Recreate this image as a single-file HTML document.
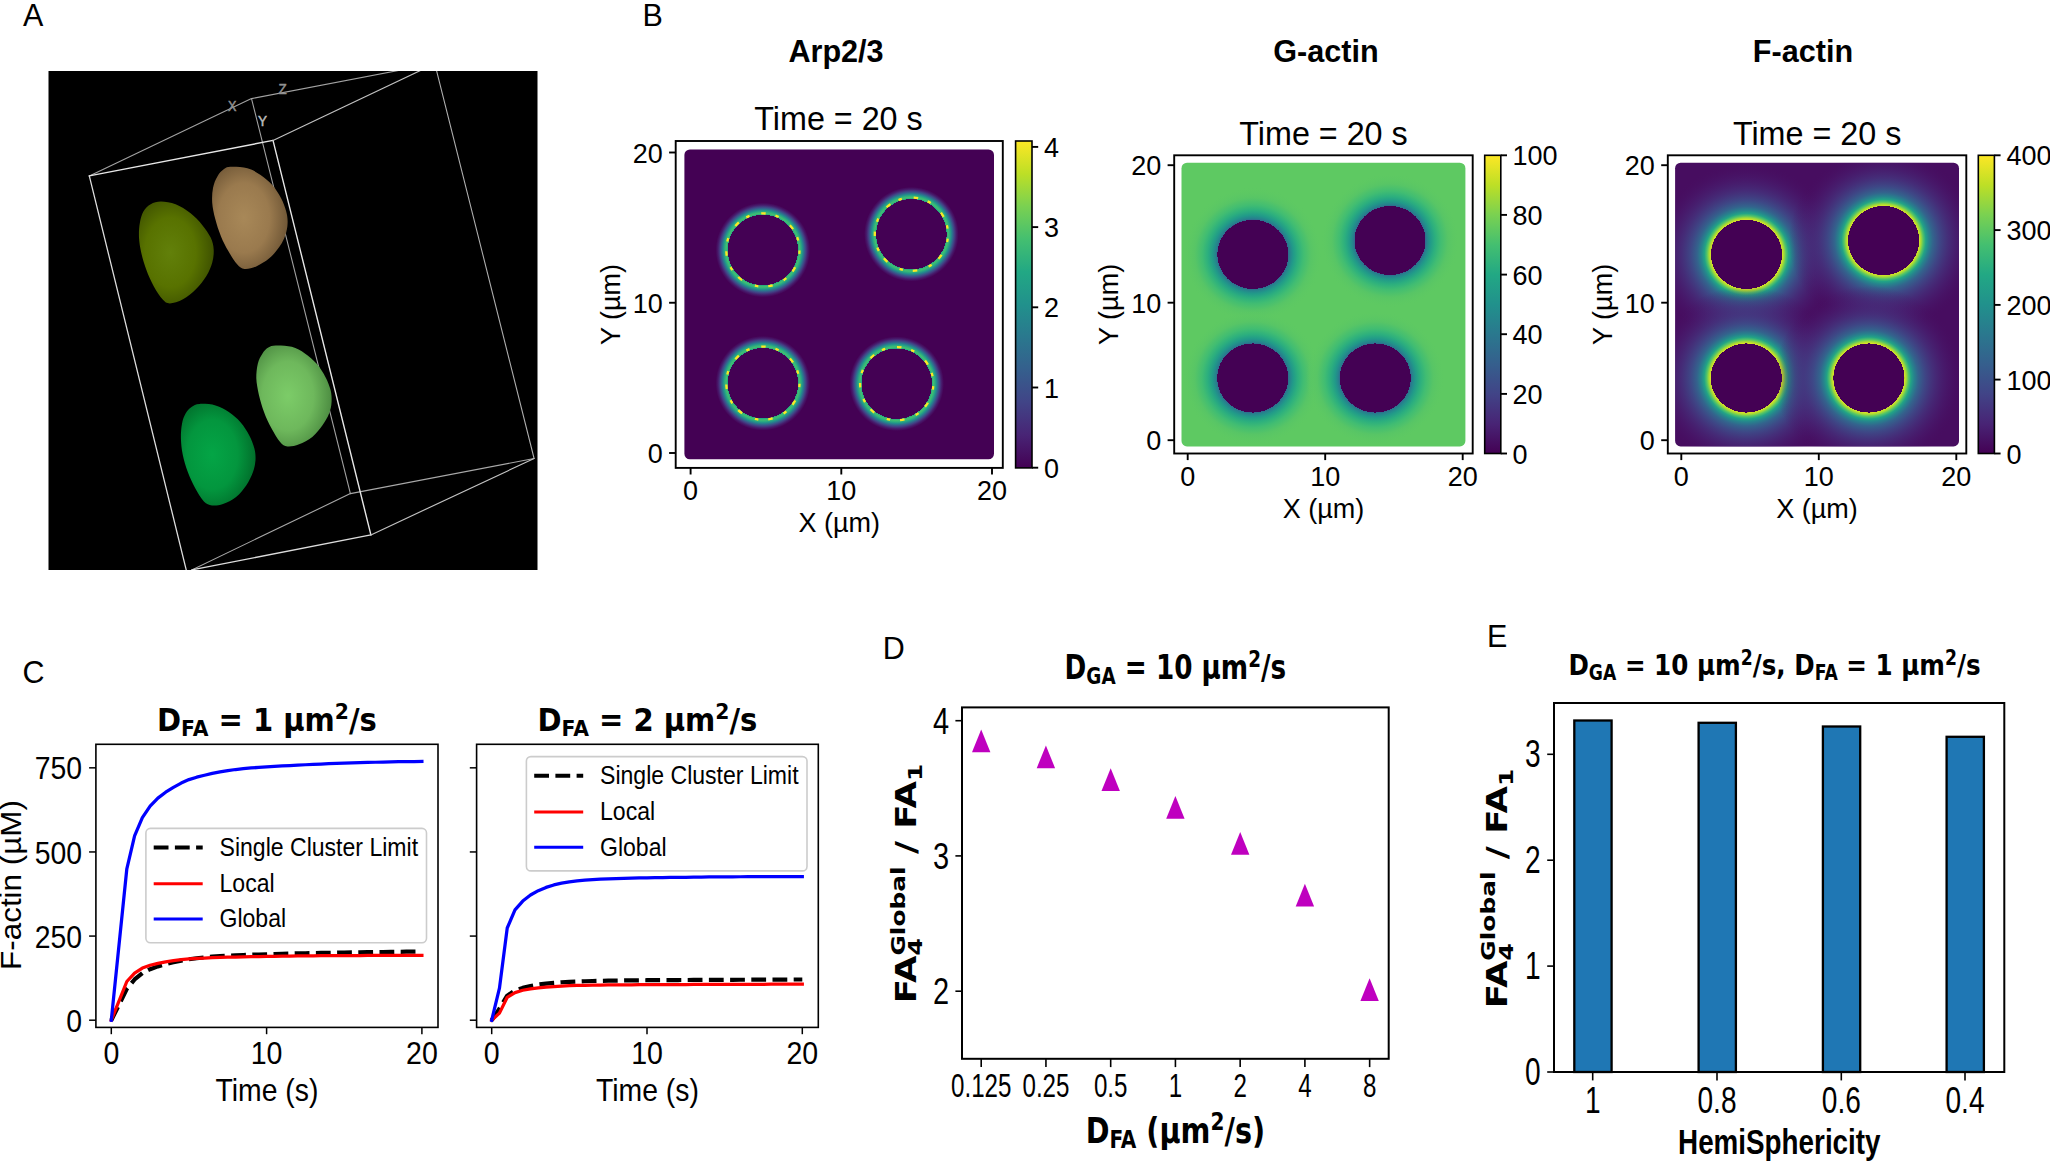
<!DOCTYPE html>
<html lang="en"><head><meta charset="utf-8"><title>Figure</title>
<style>html,body{margin:0;padding:0;background:#fff;overflow:hidden;}svg{display:block;}text{white-space:pre;}</style></head>
<body>
<svg width="2050" height="1161" viewBox="0 0 2050 1161">
<defs>
<linearGradient id="vir" x1="0" y1="1" x2="0" y2="0"><stop offset="0.0" stop-color="#440154"/><stop offset="0.1" stop-color="#482475"/><stop offset="0.2" stop-color="#414487"/><stop offset="0.3" stop-color="#355f8d"/><stop offset="0.4" stop-color="#2a788e"/><stop offset="0.5" stop-color="#21918c"/><stop offset="0.6" stop-color="#22a884"/><stop offset="0.7" stop-color="#44bf70"/><stop offset="0.8" stop-color="#7ad151"/><stop offset="0.9" stop-color="#bddf26"/><stop offset="1.0" stop-color="#fde725"/></linearGradient>
<clipPath id="clipA"><rect x="48.5" y="71.0" width="489.0" height="499.0"/></clipPath>
<radialGradient id="gOlive" cx="0.42" cy="0.5" r="0.62" fx="0.42" fy="0.5"><stop offset="0" stop-color="#62800a"/><stop offset="0.55" stop-color="#587200"/><stop offset="1" stop-color="#3a4c00"/></radialGradient>
<radialGradient id="gTan" cx="0.42" cy="0.5" r="0.62" fx="0.42" fy="0.5"><stop offset="0" stop-color="#a88858"/><stop offset="0.55" stop-color="#9a7a4e"/><stop offset="1" stop-color="#6a5233"/></radialGradient>
<radialGradient id="gLG" cx="0.42" cy="0.5" r="0.62" fx="0.42" fy="0.5"><stop offset="0" stop-color="#7ccc68"/><stop offset="0.55" stop-color="#6eb85c"/><stop offset="1" stop-color="#48863e"/></radialGradient>
<radialGradient id="gG" cx="0.42" cy="0.5" r="0.62" fx="0.42" fy="0.5"><stop offset="0" stop-color="#04a546"/><stop offset="0.55" stop-color="#03963e"/><stop offset="1" stop-color="#016828"/></radialGradient>
<radialGradient id="rg1" gradientUnits="objectBoundingBox" cx="0.5" cy="0.5" r="0.5"><stop offset="0.6767" stop-color="#440154" stop-opacity="0"/><stop offset="0.6769" stop-color="#22a884"/><stop offset="0.7058" stop-color="#44bf70"/><stop offset="0.7346" stop-color="#2caf7e"/><stop offset="0.7654" stop-color="#228e8c"/><stop offset="0.7962" stop-color="#32668d"/><stop offset="0.8269" stop-color="#424185"/><stop offset="0.8654" stop-color="#471a6b"/><stop offset="0.9077" stop-color="#440154"/><stop offset="0.9462" stop-color="#440154" stop-opacity="0"/></radialGradient>
<radialGradient id="rg2" gradientUnits="objectBoundingBox" cx="0.5" cy="0.5" r="0.5"><stop offset="0.4832" stop-color="#440154"/><stop offset="0.4833" stop-color="#306c8e"/><stop offset="0.5056" stop-color="#26828d"/><stop offset="0.5500" stop-color="#219a89"/><stop offset="0.6153" stop-color="#2caf7e"/><stop offset="0.6917" stop-color="#41bd72"/><stop offset="0.7889" stop-color="#57c566"/><stop offset="0.9417" stop-color="#5ec962" stop-opacity="0"/></radialGradient>
<clipPath id="clipB2"><rect x="1181.5" y="162.7" width="283.9" height="283.7" rx="5.5"/></clipPath>
<radialGradient id="rg3" gradientUnits="objectBoundingBox" cx="0.5" cy="0.5" r="0.5"><stop offset="0.3624" stop-color="#440154"/><stop offset="0.3625" stop-color="#dde326"/><stop offset="0.3833" stop-color="#a2d937"/><stop offset="0.4042" stop-color="#54c467"/><stop offset="0.4302" stop-color="#22a386"/><stop offset="0.4615" stop-color="#26848d"/><stop offset="0.5031" stop-color="#33648d"/><stop offset="0.5708" stop-color="#3d4c89" stop-opacity="0.92"/><stop offset="0.6646" stop-color="#443780" stop-opacity="0.75"/><stop offset="0.8000" stop-color="#482475" stop-opacity="0.4"/><stop offset="0.9667" stop-color="#470d60" stop-opacity="0"/></radialGradient>
<clipPath id="clipB3"><rect x="1675.1" y="162.7" width="283.9" height="283.7" rx="5.5"/></clipPath>
</defs>
<rect width="2050" height="1161" fill="#fff"/>
<text transform="translate(23.00,26.30) scale(1.0000,1.0400)" font-family="'Liberation Sans', Arial, sans-serif" font-size="30.5" font-weight="normal" text-anchor="start" fill="#000" >A</text>
<text transform="translate(642.60,26.10) scale(1.0000,1.0400)" font-family="'Liberation Sans', Arial, sans-serif" font-size="30.5" font-weight="normal" text-anchor="start" fill="#000" >B</text>
<text transform="translate(22.60,683.00) scale(1.0000,1.0400)" font-family="'Liberation Sans', Arial, sans-serif" font-size="30.5" font-weight="normal" text-anchor="start" fill="#000" >C</text>
<text transform="translate(882.70,659.40) scale(1.0000,1.0400)" font-family="'Liberation Sans', Arial, sans-serif" font-size="30.5" font-weight="normal" text-anchor="start" fill="#000" >D</text>
<text transform="translate(1486.90,647.30) scale(1.0000,1.0400)" font-family="'Liberation Sans', Arial, sans-serif" font-size="30.5" font-weight="normal" text-anchor="start" fill="#000" >E</text>
<rect x="48.5" y="71.0" width="489.0" height="499.0" fill="#000"/>
<g clip-path="url(#clipA)">
<line x1="89.3" y1="175.9" x2="251.5" y2="98.6" stroke="#a2a2a2" stroke-width="1.1" stroke-linecap="round"/>
<line x1="251.5" y1="98.6" x2="424.53999999999996" y2="65.48" stroke="#a2a2a2" stroke-width="1.1" stroke-linecap="round"/>
<line x1="251.5" y1="98.6" x2="350.4" y2="493.6" stroke="#a0a0a0" stroke-width="1.1" stroke-linecap="round"/>
<line x1="191.8" y1="569.9" x2="350.4" y2="493.6" stroke="#a8a8a8" stroke-width="1.1" stroke-linecap="round"/>
<line x1="350.4" y1="493.6" x2="534.1" y2="458.5" stroke="#a8a8a8" stroke-width="1.1" stroke-linecap="round"/>
<path d="M161.0,201.5 C165.1,201.5 170.8,202.3 175.6,204.2 C180.5,206.1 185.9,209.5 190.3,213.0 C194.7,216.4 198.6,220.5 202.0,224.7 C205.4,228.8 208.8,233.7 210.8,237.8 C212.7,242.0 213.5,245.4 213.7,249.6 C213.9,253.7 213.5,258.3 212.2,262.7 C211.0,267.1 209.1,271.5 206.4,275.9 C203.7,280.3 200.0,285.2 196.1,289.1 C192.2,293.0 187.3,296.9 183.0,299.3 C178.6,301.7 173.2,303.4 169.8,303.4 C166.4,303.4 165.1,302.2 162.5,299.3 C159.8,296.5 156.4,291.0 153.7,286.2 C151.0,281.3 148.4,275.7 146.4,270.1 C144.3,264.4 142.4,257.9 141.2,252.5 C140.0,247.1 139.3,242.7 139.0,237.8 C138.8,233.0 139.0,227.6 139.8,223.2 C140.5,218.8 141.6,214.7 143.4,211.5 C145.3,208.3 147.8,205.8 150.7,204.2 C153.7,202.5 156.8,201.5 161.0,201.5Z" fill="url(#gOlive)"/>
<path d="M231.3,166.8 C235.2,166.7 242.5,167.0 247.4,168.3 C252.3,169.6 256.4,172.1 260.6,174.9 C264.7,177.7 268.9,181.2 272.3,185.1 C275.7,189.0 278.7,193.9 281.1,198.3 C283.4,202.7 285.1,207.3 286.2,211.5 C287.3,215.6 287.8,219.3 287.6,223.2 C287.5,227.1 286.8,231.0 285.4,234.9 C284.1,238.8 282.3,242.7 279.6,246.6 C276.9,250.5 273.2,255.1 269.3,258.3 C265.4,261.6 260.3,264.6 256.2,266.4 C252.0,268.2 247.6,269.3 244.5,268.9 C241.3,268.5 239.8,267.2 237.1,264.2 C234.4,261.2 231.0,255.7 228.3,251.0 C225.7,246.4 223.2,241.8 221.0,236.4 C218.8,231.0 216.6,224.4 215.2,218.8 C213.7,213.2 212.6,207.8 212.2,202.7 C211.9,197.6 212.1,192.5 213.0,188.1 C213.8,183.7 215.5,179.5 217.4,176.4 C219.2,173.2 221.6,170.6 224.0,169.0 C226.3,167.4 227.4,167.0 231.3,166.8Z" fill="url(#gTan)"/>
<path d="M275.7,345.4 C279.6,345.3 286.9,345.5 291.8,346.8 C296.7,348.2 300.8,350.6 304.9,353.4 C309.1,356.2 313.2,359.8 316.7,363.7 C320.1,367.6 323.1,372.5 325.4,376.9 C327.8,381.2 329.5,385.9 330.6,390.0 C331.6,394.2 331.8,397.8 331.6,401.7 C331.4,405.6 330.6,409.6 329.1,413.5 C327.6,417.4 325.3,421.3 322.5,425.2 C319.7,429.1 316.2,433.7 312.3,436.9 C308.4,440.1 303.2,442.6 299.1,444.2 C294.9,445.8 290.6,446.8 287.4,446.4 C284.2,446.0 282.7,445.1 280.1,442.0 C277.4,439.0 274.0,433.1 271.3,428.1 C268.6,423.1 266.0,417.6 264.0,412.0 C261.9,406.4 260.1,400.0 258.8,394.4 C257.6,388.8 256.5,383.4 256.3,378.3 C256.2,373.2 256.8,367.8 257.8,363.7 C258.8,359.5 260.7,356.1 262.5,353.4 C264.2,350.7 266.1,348.9 268.3,347.6 C270.5,346.2 271.8,345.5 275.7,345.4Z" fill="url(#gLG)"/>
<path d="M199.5,403.9 C203.6,403.7 210.8,404.1 215.6,405.4 C220.5,406.7 224.7,409.2 228.8,412.0 C233.0,414.8 237.1,418.3 240.5,422.2 C243.9,426.1 247.0,431.0 249.3,435.4 C251.6,439.8 253.4,444.4 254.4,448.6 C255.5,452.7 255.7,456.4 255.5,460.3 C255.2,464.2 254.5,467.9 253.0,472.0 C251.5,476.2 249.2,481.0 246.4,485.2 C243.6,489.3 240.0,493.8 236.1,496.9 C232.2,500.0 227.0,502.5 223.0,503.9 C218.9,505.4 215.1,505.8 212.0,505.4 C208.8,505.0 206.7,504.5 203.9,501.6 C201.1,498.7 197.8,493.1 195.1,488.1 C192.5,483.2 189.9,477.6 187.8,472.0 C185.7,466.4 183.8,460.1 182.7,454.5 C181.5,448.8 181.1,443.5 180.9,438.3 C180.8,433.2 181.2,427.9 182.0,423.7 C182.7,419.6 184.0,416.3 185.6,413.5 C187.2,410.6 189.2,408.5 191.5,406.9 C193.8,405.3 195.5,404.2 199.5,403.9Z" fill="url(#gG)"/>
<line x1="89.3" y1="175.9" x2="273.0" y2="140.4" stroke="#e6e6e6" stroke-width="1.4" stroke-linecap="round"/>
<line x1="89.3" y1="175.9" x2="186.4" y2="570.6" stroke="#dcdcdc" stroke-width="1.3" stroke-linecap="round"/>
<line x1="273.0" y1="140.4" x2="370.9" y2="534.9" stroke="#e6e6e6" stroke-width="1.4" stroke-linecap="round"/>
<line x1="191.8" y1="569.9" x2="370.9" y2="534.9" stroke="#dcdcdc" stroke-width="1.3" stroke-linecap="round"/>
<line x1="370.9" y1="534.9" x2="534.1" y2="458.5" stroke="#c2c2c2" stroke-width="1.15" stroke-linecap="round"/>
<line x1="273.0" y1="140.4" x2="434.8" y2="63.7" stroke="#c0c0c0" stroke-width="1.15" stroke-linecap="round"/>
<line x1="434.8" y1="63.7" x2="534.1" y2="458.5" stroke="#adadad" stroke-width="1.1" stroke-linecap="round"/>
<text transform="translate(228.00,111.30) scale(0.8200,1.0000)" font-family="'Liberation Sans', Arial, sans-serif" font-size="15.4" font-weight="normal" text-anchor="start" fill="#909090" stroke="#909090" stroke-width="0.5">X</text>
<text transform="translate(278.60,93.70) scale(0.8800,1.0000)" font-family="'Liberation Sans', Arial, sans-serif" font-size="15.4" font-weight="normal" text-anchor="start" fill="#909090" stroke="#909090" stroke-width="0.5">Z</text>
<text transform="translate(258.00,125.90) scale(0.8800,1.0000)" font-family="'Liberation Sans', Arial, sans-serif" font-size="15.4" font-weight="normal" text-anchor="start" fill="#bcbcbc" stroke="#bcbcbc" stroke-width="0.5">Y</text>
</g>
<text transform="translate(836.00,62.30) scale(1.0000,1.0300)" font-family="'Liberation Sans', Arial, sans-serif" font-size="30.6" font-weight="bold" text-anchor="middle" fill="#000" >Arp2/3</text>
<text transform="translate(1326.00,62.30) scale(1.0000,1.0300)" font-family="'Liberation Sans', Arial, sans-serif" font-size="30.6" font-weight="bold" text-anchor="middle" fill="#000" >G-actin</text>
<text transform="translate(1803.00,62.30) scale(1.0000,1.0300)" font-family="'Liberation Sans', Arial, sans-serif" font-size="30.6" font-weight="bold" text-anchor="middle" fill="#000" >F-actin</text>
<rect x="684.4" y="149.5" width="309.6" height="309.8" rx="5.5" fill="#440154"/>
<circle cx="762.9" cy="250.0" r="52.0" fill="url(#rg1)"/>
<circle cx="762.9" cy="250.0" r="36.6" fill="none" stroke="#fde725" stroke-width="2.3" stroke-dasharray="4.5 10 3.5 14 5 9 3.5 12" stroke-dashoffset="14"/>
<circle cx="911.4" cy="234.2" r="52.0" fill="url(#rg1)"/>
<circle cx="911.4" cy="234.2" r="36.6" fill="none" stroke="#fde725" stroke-width="2.3" stroke-dasharray="4.5 10 3.5 14 5 9 3.5 12" stroke-dashoffset="10"/>
<circle cx="762.9" cy="383.2" r="52.0" fill="url(#rg1)"/>
<circle cx="762.9" cy="383.2" r="36.6" fill="none" stroke="#fde725" stroke-width="2.3" stroke-dasharray="4.5 10 3.5 14 5 9 3.5 12" stroke-dashoffset="14"/>
<circle cx="896.7" cy="383.7" r="52.0" fill="url(#rg1)"/>
<circle cx="896.7" cy="383.7" r="36.6" fill="none" stroke="#fde725" stroke-width="2.3" stroke-dasharray="4.5 10 3.5 14 5 9 3.5 12" stroke-dashoffset="12"/>
<rect x="675.70" y="141.00" width="327.10" height="326.90" fill="none" stroke="#000" stroke-width="1.9" />
<line x1="690.60" y1="467.90" x2="690.60" y2="474.50" stroke="#000" stroke-width="1.9" />
<text transform="translate(690.60,500.20) scale(1.0000,1.0400)" font-family="'Liberation Sans', Arial, sans-serif" font-size="27.0" font-weight="normal" text-anchor="middle" fill="#000" >0</text>
<line x1="669.10" y1="453.00" x2="675.70" y2="453.00" stroke="#000" stroke-width="1.9" />
<text transform="translate(662.70,463.00) scale(1.0000,1.0400)" font-family="'Liberation Sans', Arial, sans-serif" font-size="27.0" font-weight="normal" text-anchor="end" fill="#000" >0</text>
<line x1="841.30" y1="467.90" x2="841.30" y2="474.50" stroke="#000" stroke-width="1.9" />
<text transform="translate(841.30,500.20) scale(1.0000,1.0400)" font-family="'Liberation Sans', Arial, sans-serif" font-size="27.0" font-weight="normal" text-anchor="middle" fill="#000" >10</text>
<line x1="669.10" y1="302.75" x2="675.70" y2="302.75" stroke="#000" stroke-width="1.9" />
<text transform="translate(662.70,312.75) scale(1.0000,1.0400)" font-family="'Liberation Sans', Arial, sans-serif" font-size="27.0" font-weight="normal" text-anchor="end" fill="#000" >10</text>
<line x1="992.00" y1="467.90" x2="992.00" y2="474.50" stroke="#000" stroke-width="1.9" />
<text transform="translate(992.00,500.20) scale(1.0000,1.0400)" font-family="'Liberation Sans', Arial, sans-serif" font-size="27.0" font-weight="normal" text-anchor="middle" fill="#000" >20</text>
<line x1="669.10" y1="152.50" x2="675.70" y2="152.50" stroke="#000" stroke-width="1.9" />
<text transform="translate(662.70,162.50) scale(1.0000,1.0400)" font-family="'Liberation Sans', Arial, sans-serif" font-size="27.0" font-weight="normal" text-anchor="end" fill="#000" >20</text>
<text transform="translate(838.50,130.30) scale(1.0000,1.0200)" font-family="'Liberation Sans', Arial, sans-serif" font-size="32.3" font-weight="normal" text-anchor="middle" fill="#000" >Time = 20 s</text>
<text transform="translate(839.25,531.80)" font-family="'Liberation Sans', Arial, sans-serif" font-size="27.0" font-weight="normal" text-anchor="middle" fill="#000" >X (µm)</text>
<text transform="translate(620.00,304.45) rotate(-90)" font-family="'Liberation Sans', Arial, sans-serif" font-size="27.0" font-weight="normal" text-anchor="middle" fill="#000" >Y (µm)</text>
<rect x="1015.60" y="141.00" width="16.40" height="326.90" fill="url(#vir)" stroke="#000" stroke-width="1.6"/>
<line x1="1032.00" y1="146.90" x2="1038.20" y2="146.90" stroke="#000" stroke-width="1.9" />
<text transform="translate(1044.00,156.90) scale(1.0000,1.0400)" font-family="'Liberation Sans', Arial, sans-serif" font-size="27.0" font-weight="normal" text-anchor="start" fill="#000" >4</text>
<line x1="1032.00" y1="227.10" x2="1038.20" y2="227.10" stroke="#000" stroke-width="1.9" />
<text transform="translate(1044.00,237.10) scale(1.0000,1.0400)" font-family="'Liberation Sans', Arial, sans-serif" font-size="27.0" font-weight="normal" text-anchor="start" fill="#000" >3</text>
<line x1="1032.00" y1="307.30" x2="1038.20" y2="307.30" stroke="#000" stroke-width="1.9" />
<text transform="translate(1044.00,317.30) scale(1.0000,1.0400)" font-family="'Liberation Sans', Arial, sans-serif" font-size="27.0" font-weight="normal" text-anchor="start" fill="#000" >2</text>
<line x1="1032.00" y1="387.50" x2="1038.20" y2="387.50" stroke="#000" stroke-width="1.9" />
<text transform="translate(1044.00,397.50) scale(1.0000,1.0400)" font-family="'Liberation Sans', Arial, sans-serif" font-size="27.0" font-weight="normal" text-anchor="start" fill="#000" >1</text>
<line x1="1032.00" y1="467.70" x2="1038.20" y2="467.70" stroke="#000" stroke-width="1.9" />
<text transform="translate(1044.00,477.70) scale(1.0000,1.0400)" font-family="'Liberation Sans', Arial, sans-serif" font-size="27.0" font-weight="normal" text-anchor="start" fill="#000" >0</text>
<rect x="1181.5" y="162.7" width="283.9" height="283.7" rx="5.5" fill="#5ec962"/>
<g clip-path="url(#clipB2)">
<ellipse cx="1252.9" cy="254.4" rx="73.44" ry="71.42" fill="url(#rg2)"/>
<ellipse cx="1390.0" cy="240.5" rx="73.44" ry="71.42" fill="url(#rg2)"/>
<ellipse cx="1252.7" cy="378.0" rx="73.44" ry="71.42" fill="url(#rg2)"/>
<ellipse cx="1375.3000000000002" cy="378.0" rx="73.44" ry="71.42" fill="url(#rg2)"/>
</g>
<rect x="1174.20" y="155.30" width="298.50" height="298.20" fill="none" stroke="#000" stroke-width="1.9" />
<line x1="1187.70" y1="453.50" x2="1187.70" y2="460.10" stroke="#000" stroke-width="1.9" />
<text transform="translate(1187.70,485.80) scale(1.0000,1.0400)" font-family="'Liberation Sans', Arial, sans-serif" font-size="27.0" font-weight="normal" text-anchor="middle" fill="#000" >0</text>
<line x1="1167.60" y1="440.20" x2="1174.20" y2="440.20" stroke="#000" stroke-width="1.9" />
<text transform="translate(1161.20,450.20) scale(1.0000,1.0400)" font-family="'Liberation Sans', Arial, sans-serif" font-size="27.0" font-weight="normal" text-anchor="end" fill="#000" >0</text>
<line x1="1325.20" y1="453.50" x2="1325.20" y2="460.10" stroke="#000" stroke-width="1.9" />
<text transform="translate(1325.20,485.80) scale(1.0000,1.0400)" font-family="'Liberation Sans', Arial, sans-serif" font-size="27.0" font-weight="normal" text-anchor="middle" fill="#000" >10</text>
<line x1="1167.60" y1="302.70" x2="1174.20" y2="302.70" stroke="#000" stroke-width="1.9" />
<text transform="translate(1161.20,312.70) scale(1.0000,1.0400)" font-family="'Liberation Sans', Arial, sans-serif" font-size="27.0" font-weight="normal" text-anchor="end" fill="#000" >10</text>
<line x1="1462.70" y1="453.50" x2="1462.70" y2="460.10" stroke="#000" stroke-width="1.9" />
<text transform="translate(1462.70,485.80) scale(1.0000,1.0400)" font-family="'Liberation Sans', Arial, sans-serif" font-size="27.0" font-weight="normal" text-anchor="middle" fill="#000" >20</text>
<line x1="1167.60" y1="165.20" x2="1174.20" y2="165.20" stroke="#000" stroke-width="1.9" />
<text transform="translate(1161.20,175.20) scale(1.0000,1.0400)" font-family="'Liberation Sans', Arial, sans-serif" font-size="27.0" font-weight="normal" text-anchor="end" fill="#000" >20</text>
<text transform="translate(1323.50,144.70) scale(1.0000,1.0200)" font-family="'Liberation Sans', Arial, sans-serif" font-size="32.3" font-weight="normal" text-anchor="middle" fill="#000" >Time = 20 s</text>
<text transform="translate(1323.45,517.90)" font-family="'Liberation Sans', Arial, sans-serif" font-size="27.0" font-weight="normal" text-anchor="middle" fill="#000" >X (µm)</text>
<text transform="translate(1118.40,304.40) rotate(-90)" font-family="'Liberation Sans', Arial, sans-serif" font-size="27.0" font-weight="normal" text-anchor="middle" fill="#000" >Y (µm)</text>
<rect x="1484.70" y="155.30" width="16.10" height="298.20" fill="url(#vir)" stroke="#000" stroke-width="1.6"/>
<line x1="1500.80" y1="155.30" x2="1507.00" y2="155.30" stroke="#000" stroke-width="1.9" />
<text transform="translate(1512.50,165.30) scale(1.0000,1.0400)" font-family="'Liberation Sans', Arial, sans-serif" font-size="27.0" font-weight="normal" text-anchor="start" fill="#000" >100</text>
<line x1="1500.80" y1="214.90" x2="1507.00" y2="214.90" stroke="#000" stroke-width="1.9" />
<text transform="translate(1512.50,224.90) scale(1.0000,1.0400)" font-family="'Liberation Sans', Arial, sans-serif" font-size="27.0" font-weight="normal" text-anchor="start" fill="#000" >80</text>
<line x1="1500.80" y1="274.60" x2="1507.00" y2="274.60" stroke="#000" stroke-width="1.9" />
<text transform="translate(1512.50,284.60) scale(1.0000,1.0400)" font-family="'Liberation Sans', Arial, sans-serif" font-size="27.0" font-weight="normal" text-anchor="start" fill="#000" >60</text>
<line x1="1500.80" y1="334.20" x2="1507.00" y2="334.20" stroke="#000" stroke-width="1.9" />
<text transform="translate(1512.50,344.20) scale(1.0000,1.0400)" font-family="'Liberation Sans', Arial, sans-serif" font-size="27.0" font-weight="normal" text-anchor="start" fill="#000" >40</text>
<line x1="1500.80" y1="393.90" x2="1507.00" y2="393.90" stroke="#000" stroke-width="1.9" />
<text transform="translate(1512.50,403.90) scale(1.0000,1.0400)" font-family="'Liberation Sans', Arial, sans-serif" font-size="27.0" font-weight="normal" text-anchor="start" fill="#000" >20</text>
<line x1="1500.80" y1="453.50" x2="1507.00" y2="453.50" stroke="#000" stroke-width="1.9" />
<text transform="translate(1512.50,463.50) scale(1.0000,1.0400)" font-family="'Liberation Sans', Arial, sans-serif" font-size="27.0" font-weight="normal" text-anchor="start" fill="#000" >0</text>
<rect x="1675.1" y="162.7" width="283.9" height="283.7" rx="5.5" fill="#470d60"/>
<g clip-path="url(#clipB3)">
<ellipse cx="1746.5" cy="254.4" rx="97.92" ry="95.23" fill="url(#rg3)"/>
<ellipse cx="1883.6" cy="240.5" rx="97.92" ry="95.23" fill="url(#rg3)"/>
<ellipse cx="1746.3" cy="378.0" rx="97.92" ry="95.23" fill="url(#rg3)"/>
<ellipse cx="1868.9" cy="378.0" rx="97.92" ry="95.23" fill="url(#rg3)"/>
<ellipse cx="1746.5" cy="254.4" rx="35.29" ry="34.32" fill="#440154"/>
<ellipse cx="1883.6" cy="240.5" rx="35.29" ry="34.32" fill="#440154"/>
<ellipse cx="1746.3" cy="378.0" rx="35.29" ry="34.32" fill="#440154"/>
<ellipse cx="1868.9" cy="378.0" rx="35.29" ry="34.32" fill="#440154"/>
</g>
<rect x="1667.80" y="155.30" width="298.50" height="298.20" fill="none" stroke="#000" stroke-width="1.9" />
<line x1="1681.30" y1="453.50" x2="1681.30" y2="460.10" stroke="#000" stroke-width="1.9" />
<text transform="translate(1681.30,485.80) scale(1.0000,1.0400)" font-family="'Liberation Sans', Arial, sans-serif" font-size="27.0" font-weight="normal" text-anchor="middle" fill="#000" >0</text>
<line x1="1661.20" y1="440.20" x2="1667.80" y2="440.20" stroke="#000" stroke-width="1.9" />
<text transform="translate(1654.80,450.20) scale(1.0000,1.0400)" font-family="'Liberation Sans', Arial, sans-serif" font-size="27.0" font-weight="normal" text-anchor="end" fill="#000" >0</text>
<line x1="1818.80" y1="453.50" x2="1818.80" y2="460.10" stroke="#000" stroke-width="1.9" />
<text transform="translate(1818.80,485.80) scale(1.0000,1.0400)" font-family="'Liberation Sans', Arial, sans-serif" font-size="27.0" font-weight="normal" text-anchor="middle" fill="#000" >10</text>
<line x1="1661.20" y1="302.70" x2="1667.80" y2="302.70" stroke="#000" stroke-width="1.9" />
<text transform="translate(1654.80,312.70) scale(1.0000,1.0400)" font-family="'Liberation Sans', Arial, sans-serif" font-size="27.0" font-weight="normal" text-anchor="end" fill="#000" >10</text>
<line x1="1956.30" y1="453.50" x2="1956.30" y2="460.10" stroke="#000" stroke-width="1.9" />
<text transform="translate(1956.30,485.80) scale(1.0000,1.0400)" font-family="'Liberation Sans', Arial, sans-serif" font-size="27.0" font-weight="normal" text-anchor="middle" fill="#000" >20</text>
<line x1="1661.20" y1="165.20" x2="1667.80" y2="165.20" stroke="#000" stroke-width="1.9" />
<text transform="translate(1654.80,175.20) scale(1.0000,1.0400)" font-family="'Liberation Sans', Arial, sans-serif" font-size="27.0" font-weight="normal" text-anchor="end" fill="#000" >20</text>
<text transform="translate(1817.10,144.70) scale(1.0000,1.0200)" font-family="'Liberation Sans', Arial, sans-serif" font-size="32.3" font-weight="normal" text-anchor="middle" fill="#000" >Time = 20 s</text>
<text transform="translate(1817.05,517.90)" font-family="'Liberation Sans', Arial, sans-serif" font-size="27.0" font-weight="normal" text-anchor="middle" fill="#000" >X (µm)</text>
<text transform="translate(1612.00,304.40) rotate(-90)" font-family="'Liberation Sans', Arial, sans-serif" font-size="27.0" font-weight="normal" text-anchor="middle" fill="#000" >Y (µm)</text>
<rect x="1978.30" y="155.30" width="16.10" height="298.20" fill="url(#vir)" stroke="#000" stroke-width="1.6"/>
<line x1="1994.40" y1="155.30" x2="2000.60" y2="155.30" stroke="#000" stroke-width="1.9" />
<text transform="translate(2006.60,165.30) scale(1.0000,1.0400)" font-family="'Liberation Sans', Arial, sans-serif" font-size="27.0" font-weight="normal" text-anchor="start" fill="#000" >400</text>
<line x1="1994.40" y1="230.10" x2="2000.60" y2="230.10" stroke="#000" stroke-width="1.9" />
<text transform="translate(2006.60,240.10) scale(1.0000,1.0400)" font-family="'Liberation Sans', Arial, sans-serif" font-size="27.0" font-weight="normal" text-anchor="start" fill="#000" >300</text>
<line x1="1994.40" y1="304.90" x2="2000.60" y2="304.90" stroke="#000" stroke-width="1.9" />
<text transform="translate(2006.60,314.90) scale(1.0000,1.0400)" font-family="'Liberation Sans', Arial, sans-serif" font-size="27.0" font-weight="normal" text-anchor="start" fill="#000" >200</text>
<line x1="1994.40" y1="379.60" x2="2000.60" y2="379.60" stroke="#000" stroke-width="1.9" />
<text transform="translate(2006.60,389.60) scale(1.0000,1.0400)" font-family="'Liberation Sans', Arial, sans-serif" font-size="27.0" font-weight="normal" text-anchor="start" fill="#000" >100</text>
<line x1="1994.40" y1="453.50" x2="2000.60" y2="453.50" stroke="#000" stroke-width="1.9" />
<text transform="translate(2006.60,463.50) scale(1.0000,1.0400)" font-family="'Liberation Sans', Arial, sans-serif" font-size="27.0" font-weight="normal" text-anchor="start" fill="#000" >0</text>
<path d="M111.30,1020.20 L126.83,988.91 L134.59,979.48 L142.36,973.09 L150.12,969.21 L157.89,966.36 L165.66,964.14 L173.42,962.32 L181.19,960.65 L188.95,959.29 L196.71,958.27 L204.48,957.38 L212.25,956.65 L220.01,956.10 L227.77,955.68 L235.54,955.32 L243.31,955.01 L251.07,954.74 L258.83,954.49 L266.60,954.25 L274.37,954.01 L282.13,953.79 L289.89,953.59 L297.66,953.40 L305.43,953.24 L313.19,953.09 L320.95,952.95 L328.72,952.81 L336.49,952.68 L344.25,952.56 L352.01,952.45 L359.78,952.33 L367.55,952.22 L375.31,952.11 L383.07,952.01 L390.84,951.91 L398.61,951.81 L406.37,951.72 L414.13,951.63 L421.90,951.55" fill="none" stroke="#000" stroke-width="4.2" stroke-linejoin="round" stroke-dasharray="14.8 6.4"/>
<path d="M111.30,1020.20 L126.83,981.50 L134.59,973.09 L142.36,968.04 L150.12,965.28 L157.89,963.33 L165.66,961.82 L173.42,960.64 L181.19,959.68 L188.95,958.96 L196.71,958.46 L204.48,958.05 L212.25,957.71 L220.01,957.44 L227.77,957.22 L235.54,957.03 L243.31,956.87 L251.07,956.72 L258.83,956.57 L266.60,956.43 L274.37,956.29 L282.13,956.15 L289.89,956.03 L297.66,955.93 L305.43,955.85 L313.19,955.79 L320.95,955.73 L328.72,955.68 L336.49,955.64 L344.25,955.59 L352.01,955.55 L359.78,955.51 L367.55,955.47 L375.31,955.43 L383.07,955.39 L390.84,955.36 L398.61,955.33 L406.37,955.30 L414.13,955.28 L421.90,955.26" fill="none" stroke="#f00" stroke-width="3.25" stroke-linejoin="round" stroke-linecap="square"/>
<path d="M111.30,1020.20 L126.83,868.78 L134.59,835.80 L142.36,817.63 L150.12,806.19 L157.89,798.11 L165.66,792.20 L173.42,787.34 L181.19,783.05 L188.95,779.60 L196.71,777.19 L204.48,775.23 L212.25,773.42 L220.01,771.86 L227.77,770.56 L235.54,769.51 L243.31,768.69 L251.07,767.98 L258.83,767.36 L266.60,766.82 L274.37,766.33 L282.13,765.90 L289.89,765.51 L297.66,765.13 L305.43,764.75 L313.19,764.38 L320.95,764.01 L328.72,763.68 L336.49,763.37 L344.25,763.11 L352.01,762.89 L359.78,762.66 L367.55,762.45 L375.31,762.25 L383.07,762.06 L390.84,761.89 L398.61,761.74 L406.37,761.61 L414.13,761.51 L421.90,761.43" fill="none" stroke="#00f" stroke-width="3.25" stroke-linejoin="round" stroke-linecap="square"/>
<rect x="95.90" y="744.30" width="342.10" height="283.10" fill="none" stroke="#000" stroke-width="1.6" />
<line x1="111.30" y1="1027.40" x2="111.30" y2="1034.20" stroke="#000" stroke-width="1.5" />
<text transform="translate(111.30,1064.20) scale(0.9200,1.0400)" font-family="'Liberation Sans', Arial, sans-serif" font-size="31.0" font-weight="normal" text-anchor="middle" fill="#000" >0</text>
<line x1="266.60" y1="1027.40" x2="266.60" y2="1034.20" stroke="#000" stroke-width="1.5" />
<text transform="translate(266.60,1064.20) scale(0.9200,1.0400)" font-family="'Liberation Sans', Arial, sans-serif" font-size="31.0" font-weight="normal" text-anchor="middle" fill="#000" >10</text>
<line x1="421.90" y1="1027.40" x2="421.90" y2="1034.20" stroke="#000" stroke-width="1.5" />
<text transform="translate(421.90,1064.20) scale(0.9200,1.0400)" font-family="'Liberation Sans', Arial, sans-serif" font-size="31.0" font-weight="normal" text-anchor="middle" fill="#000" >20</text>
<line x1="89.10" y1="1020.20" x2="95.90" y2="1020.20" stroke="#000" stroke-width="1.5" />
<text transform="translate(82.00,1031.80) scale(0.9150,1.0400)" font-family="'Liberation Sans', Arial, sans-serif" font-size="31.0" font-weight="normal" text-anchor="end" fill="#000" >0</text>
<line x1="89.10" y1="936.08" x2="95.90" y2="936.08" stroke="#000" stroke-width="1.5" />
<text transform="translate(82.00,947.68) scale(0.9150,1.0400)" font-family="'Liberation Sans', Arial, sans-serif" font-size="31.0" font-weight="normal" text-anchor="end" fill="#000" >250</text>
<line x1="89.10" y1="851.95" x2="95.90" y2="851.95" stroke="#000" stroke-width="1.5" />
<text transform="translate(82.00,863.55) scale(0.9150,1.0400)" font-family="'Liberation Sans', Arial, sans-serif" font-size="31.0" font-weight="normal" text-anchor="end" fill="#000" >500</text>
<line x1="89.10" y1="767.83" x2="95.90" y2="767.83" stroke="#000" stroke-width="1.5" />
<text transform="translate(82.00,779.43) scale(0.9150,1.0400)" font-family="'Liberation Sans', Arial, sans-serif" font-size="31.0" font-weight="normal" text-anchor="end" fill="#000" >750</text>
<text transform="translate(266.95,1101.20) scale(0.9300,1.0000)" font-family="'Liberation Sans', Arial, sans-serif" font-size="30.5" font-weight="normal" text-anchor="middle" fill="#000" >Time (s)</text>
<text transform="translate(266.95,730.60) scale(0.9220,1.0000)" font-family="'DejaVu Sans', 'Liberation Sans', sans-serif" font-size="31.5" font-weight="bold" text-anchor="middle" fill="#000" ><tspan>D</tspan><tspan font-size="22.05" dy="5.04">FA</tspan><tspan dy="-5.04"> = 1 µm</tspan><tspan font-size="22.05" dy="-11.34">2</tspan><tspan dy="11.34">/s</tspan></text>
<rect x="145.9" y="828.4" width="280.6" height="114.3" rx="4.5" fill="#fff" fill-opacity="0.8" stroke="#ccc" stroke-width="1.6"/>
<line x1="153.7" y1="847.6" x2="202.7" y2="847.6" stroke="#000" stroke-width="4.0" stroke-dasharray="14.8 6.4"/>
<text transform="translate(219.50,855.90) scale(0.9450,1.0200)" font-family="'Liberation Sans', Arial, sans-serif" font-size="24.4" font-weight="normal" text-anchor="start" fill="#000" >Single Cluster Limit</text>
<line x1="153.7" y1="883.8" x2="202.7" y2="883.8" stroke="#f00" stroke-width="2.9"/>
<text transform="translate(219.50,892.10) scale(0.9450,1.0200)" font-family="'Liberation Sans', Arial, sans-serif" font-size="24.4" font-weight="normal" text-anchor="start" fill="#000" >Local</text>
<line x1="153.7" y1="919.0" x2="202.7" y2="919.0" stroke="#00f" stroke-width="2.9"/>
<text transform="translate(219.50,927.30) scale(0.9450,1.0200)" font-family="'Liberation Sans', Arial, sans-serif" font-size="24.4" font-weight="normal" text-anchor="start" fill="#000" >Global</text>
<path d="M491.70,1020.20 L499.46,1008.76 L507.23,995.64 L515.00,990.59 L522.76,987.90 L530.52,985.96 L538.29,984.53 L546.05,983.57 L553.82,982.85 L561.59,982.27 L569.35,981.84 L577.12,981.51 L584.88,981.23 L592.64,981.01 L600.41,980.83 L608.17,980.69 L615.94,980.57 L623.70,980.46 L631.47,980.37 L639.24,980.29 L647.00,980.22 L654.76,980.17 L662.53,980.12 L670.29,980.07 L678.06,980.03 L685.83,979.99 L693.59,979.96 L701.36,979.92 L709.12,979.89 L716.88,979.86 L724.65,979.82 L732.41,979.78 L740.18,979.75 L747.94,979.71 L755.71,979.68 L763.47,979.64 L771.24,979.61 L779.00,979.58 L786.77,979.55 L794.53,979.51 L802.30,979.48" fill="none" stroke="#000" stroke-width="4.2" stroke-linejoin="round" stroke-dasharray="14.8 6.4"/>
<path d="M491.70,1020.20 L499.46,1013.13 L507.23,997.32 L515.00,992.61 L522.76,990.25 L530.52,988.88 L538.29,987.90 L546.05,987.14 L553.82,986.55 L561.59,986.06 L569.35,985.71 L577.12,985.48 L584.88,985.29 L592.64,985.14 L600.41,985.04 L608.17,984.96 L615.94,984.89 L623.70,984.83 L631.47,984.79 L639.24,984.74 L647.00,984.70 L654.76,984.66 L662.53,984.62 L670.29,984.58 L678.06,984.54 L685.83,984.51 L693.59,984.47 L701.36,984.44 L709.12,984.41 L716.88,984.39 L724.65,984.36 L732.41,984.34 L740.18,984.32 L747.94,984.30 L755.71,984.28 L763.47,984.26 L771.24,984.24 L779.00,984.23 L786.77,984.22 L794.53,984.20 L802.30,984.19" fill="none" stroke="#f00" stroke-width="3.25" stroke-linejoin="round" stroke-linecap="square"/>
<path d="M491.70,1020.20 L499.46,988.23 L507.23,928.00 L515.00,909.83 L522.76,901.08 L530.52,895.02 L538.29,890.65 L546.05,887.40 L553.82,884.93 L561.59,883.19 L569.35,881.90 L577.12,880.93 L584.88,880.22 L592.64,879.67 L600.41,879.20 L608.17,878.82 L615.94,878.53 L623.70,878.32 L631.47,878.14 L639.24,877.99 L647.00,877.86 L654.76,877.73 L662.53,877.60 L670.29,877.48 L678.06,877.37 L685.83,877.26 L693.59,877.15 L701.36,877.06 L709.12,876.98 L716.88,876.91 L724.65,876.85 L732.41,876.80 L740.18,876.75 L747.94,876.70 L755.71,876.66 L763.47,876.62 L771.24,876.58 L779.00,876.56 L786.77,876.53 L794.53,876.52 L802.30,876.51" fill="none" stroke="#00f" stroke-width="3.25" stroke-linejoin="round" stroke-linecap="square"/>
<rect x="476.60" y="744.30" width="341.70" height="283.10" fill="none" stroke="#000" stroke-width="1.6" />
<line x1="491.70" y1="1027.40" x2="491.70" y2="1034.20" stroke="#000" stroke-width="1.5" />
<text transform="translate(491.70,1064.20) scale(0.9200,1.0400)" font-family="'Liberation Sans', Arial, sans-serif" font-size="31.0" font-weight="normal" text-anchor="middle" fill="#000" >0</text>
<line x1="647.00" y1="1027.40" x2="647.00" y2="1034.20" stroke="#000" stroke-width="1.5" />
<text transform="translate(647.00,1064.20) scale(0.9200,1.0400)" font-family="'Liberation Sans', Arial, sans-serif" font-size="31.0" font-weight="normal" text-anchor="middle" fill="#000" >10</text>
<line x1="802.30" y1="1027.40" x2="802.30" y2="1034.20" stroke="#000" stroke-width="1.5" />
<text transform="translate(802.30,1064.20) scale(0.9200,1.0400)" font-family="'Liberation Sans', Arial, sans-serif" font-size="31.0" font-weight="normal" text-anchor="middle" fill="#000" >20</text>
<line x1="469.80" y1="1020.20" x2="476.60" y2="1020.20" stroke="#000" stroke-width="1.5" />
<line x1="469.80" y1="936.08" x2="476.60" y2="936.08" stroke="#000" stroke-width="1.5" />
<line x1="469.80" y1="851.95" x2="476.60" y2="851.95" stroke="#000" stroke-width="1.5" />
<line x1="469.80" y1="767.83" x2="476.60" y2="767.83" stroke="#000" stroke-width="1.5" />
<text transform="translate(647.45,1101.20) scale(0.9300,1.0000)" font-family="'Liberation Sans', Arial, sans-serif" font-size="30.5" font-weight="normal" text-anchor="middle" fill="#000" >Time (s)</text>
<text transform="translate(647.45,730.60) scale(0.9220,1.0000)" font-family="'DejaVu Sans', 'Liberation Sans', sans-serif" font-size="31.5" font-weight="bold" text-anchor="middle" fill="#000" ><tspan>D</tspan><tspan font-size="22.05" dy="5.04">FA</tspan><tspan dy="-5.04"> = 2 µm</tspan><tspan font-size="22.05" dy="-11.34">2</tspan><tspan dy="11.34">/s</tspan></text>
<rect x="526.4" y="756.6" width="280.6" height="114.3" rx="4.5" fill="#fff" fill-opacity="0.8" stroke="#ccc" stroke-width="1.6"/>
<line x1="534.2" y1="775.8" x2="583.2" y2="775.8" stroke="#000" stroke-width="4.0" stroke-dasharray="14.8 6.4"/>
<text transform="translate(600.00,784.10) scale(0.9450,1.0200)" font-family="'Liberation Sans', Arial, sans-serif" font-size="24.4" font-weight="normal" text-anchor="start" fill="#000" >Single Cluster Limit</text>
<line x1="534.2" y1="812.0" x2="583.2" y2="812.0" stroke="#f00" stroke-width="2.9"/>
<text transform="translate(600.00,820.30) scale(0.9450,1.0200)" font-family="'Liberation Sans', Arial, sans-serif" font-size="24.4" font-weight="normal" text-anchor="start" fill="#000" >Local</text>
<line x1="534.2" y1="847.2" x2="583.2" y2="847.2" stroke="#00f" stroke-width="2.9"/>
<text transform="translate(600.00,855.50) scale(0.9450,1.0200)" font-family="'Liberation Sans', Arial, sans-serif" font-size="24.4" font-weight="normal" text-anchor="start" fill="#000" >Global</text>
<text transform="translate(21.20,885.00) rotate(-90) scale(1.0000,0.9400)" font-family="'Liberation Sans', Arial, sans-serif" font-size="31.4" font-weight="normal" text-anchor="middle" fill="#000" >F-actin (µM)</text>
<rect x="962.00" y="707.40" width="426.70" height="351.40" fill="none" stroke="#000" stroke-width="2.0" />
<line x1="981.20" y1="1058.80" x2="981.20" y2="1067.10" stroke="#000" stroke-width="1.6" />
<text transform="translate(981.20,1096.80) scale(0.7760,1.0400)" font-family="'Liberation Sans', Arial, sans-serif" font-size="31.1" font-weight="normal" text-anchor="middle" fill="#000" >0.125</text>
<line x1="1045.94" y1="1058.80" x2="1045.94" y2="1067.10" stroke="#000" stroke-width="1.6" />
<text transform="translate(1045.94,1096.80) scale(0.7760,1.0400)" font-family="'Liberation Sans', Arial, sans-serif" font-size="31.1" font-weight="normal" text-anchor="middle" fill="#000" >0.25</text>
<line x1="1110.68" y1="1058.80" x2="1110.68" y2="1067.10" stroke="#000" stroke-width="1.6" />
<text transform="translate(1110.68,1096.80) scale(0.7760,1.0400)" font-family="'Liberation Sans', Arial, sans-serif" font-size="31.1" font-weight="normal" text-anchor="middle" fill="#000" >0.5</text>
<line x1="1175.42" y1="1058.80" x2="1175.42" y2="1067.10" stroke="#000" stroke-width="1.6" />
<text transform="translate(1175.42,1096.80) scale(0.7760,1.0400)" font-family="'Liberation Sans', Arial, sans-serif" font-size="31.1" font-weight="normal" text-anchor="middle" fill="#000" >1</text>
<line x1="1240.16" y1="1058.80" x2="1240.16" y2="1067.10" stroke="#000" stroke-width="1.6" />
<text transform="translate(1240.16,1096.80) scale(0.7760,1.0400)" font-family="'Liberation Sans', Arial, sans-serif" font-size="31.1" font-weight="normal" text-anchor="middle" fill="#000" >2</text>
<line x1="1304.90" y1="1058.80" x2="1304.90" y2="1067.10" stroke="#000" stroke-width="1.6" />
<text transform="translate(1304.90,1096.80) scale(0.7760,1.0400)" font-family="'Liberation Sans', Arial, sans-serif" font-size="31.1" font-weight="normal" text-anchor="middle" fill="#000" >4</text>
<line x1="1369.64" y1="1058.80" x2="1369.64" y2="1067.10" stroke="#000" stroke-width="1.6" />
<text transform="translate(1369.64,1096.80) scale(0.7760,1.0400)" font-family="'Liberation Sans', Arial, sans-serif" font-size="31.1" font-weight="normal" text-anchor="middle" fill="#000" >8</text>
<line x1="955.40" y1="720.70" x2="962.00" y2="720.70" stroke="#000" stroke-width="1.6" />
<text transform="translate(949.10,733.60) scale(0.8120,1.0400)" font-family="'Liberation Sans', Arial, sans-serif" font-size="35.7" font-weight="normal" text-anchor="end" fill="#000" >4</text>
<line x1="955.40" y1="855.90" x2="962.00" y2="855.90" stroke="#000" stroke-width="1.6" />
<text transform="translate(949.10,868.80) scale(0.8120,1.0400)" font-family="'Liberation Sans', Arial, sans-serif" font-size="35.7" font-weight="normal" text-anchor="end" fill="#000" >3</text>
<line x1="955.40" y1="991.20" x2="962.00" y2="991.20" stroke="#000" stroke-width="1.6" />
<text transform="translate(949.10,1004.10) scale(0.8120,1.0400)" font-family="'Liberation Sans', Arial, sans-serif" font-size="35.7" font-weight="normal" text-anchor="end" fill="#000" >2</text>
<path d="M981.2,729.6 L990.4,752.3 L972.0,752.3Z" fill="#bf00bf"/>
<path d="M1045.9,745.5 L1055.1,768.2 L1036.7,768.2Z" fill="#bf00bf"/>
<path d="M1110.7,768.2 L1119.9,790.9 L1101.5,790.9Z" fill="#bf00bf"/>
<path d="M1175.4,796.0 L1184.6,818.7 L1166.2,818.7Z" fill="#bf00bf"/>
<path d="M1240.2,832.0 L1249.4,854.7 L1231.0,854.7Z" fill="#bf00bf"/>
<path d="M1304.9,883.7 L1314.1,906.4 L1295.7,906.4Z" fill="#bf00bf"/>
<path d="M1369.6,978.3 L1378.8,1001.0 L1360.4,1001.0Z" fill="#bf00bf"/>
<text transform="translate(1175.35,678.90) scale(0.8000,1.0000)" font-family="'DejaVu Sans', 'Liberation Sans', sans-serif" font-size="32.8" font-weight="bold" text-anchor="middle" fill="#000" ><tspan>D</tspan><tspan font-size="22.96" dy="5.25">GA</tspan><tspan dy="-5.25"> = 10 µm</tspan><tspan font-size="22.96" dy="-11.81">2</tspan><tspan dy="11.81">/s</tspan></text>
<text transform="translate(1175.35,1142.70) scale(0.8150,1.0000)" font-family="'DejaVu Sans', 'Liberation Sans', sans-serif" font-size="35.2" font-weight="bold" text-anchor="middle" fill="#000" ><tspan>D</tspan><tspan font-size="24.64" dy="5.63">FA</tspan><tspan dy="-5.63"> (µm</tspan><tspan font-size="24.64" dy="-12.67">2</tspan><tspan dy="12.67">/s)</tspan></text>
<text transform="translate(916.10,883.40) rotate(-90) scale(1.2700,1.0000)" font-family="'DejaVu Sans', 'Liberation Sans', sans-serif" font-size="28.0" font-weight="bold" text-anchor="middle" fill="#000" ><tspan>FA</tspan><tspan font-size="19.60" dy="6.16">4</tspan><tspan font-size="19.60" dy="-17.36" dx="-13.72">Global</tspan><tspan dy="11.20"> / FA</tspan><tspan font-size="19.60" dy="6.16">1</tspan></text>
<rect x="1574.30" y="720.50" width="37.30" height="351.50" fill="#1f77b4" stroke="#000" stroke-width="2.3" />
<rect x="1698.60" y="722.80" width="37.30" height="349.20" fill="#1f77b4" stroke="#000" stroke-width="2.3" />
<rect x="1822.90" y="726.50" width="37.30" height="345.50" fill="#1f77b4" stroke="#000" stroke-width="2.3" />
<rect x="1946.60" y="736.80" width="37.30" height="335.20" fill="#1f77b4" stroke="#000" stroke-width="2.3" />
<rect x="1554.00" y="703.00" width="450.30" height="369.00" fill="none" stroke="#000" stroke-width="2.0" />
<line x1="1592.70" y1="1072.00" x2="1592.70" y2="1080.40" stroke="#000" stroke-width="1.6" />
<text transform="translate(1592.70,1112.80) scale(0.7800,1.0400)" font-family="'Liberation Sans', Arial, sans-serif" font-size="36.0" font-weight="normal" text-anchor="middle" fill="#000" >1</text>
<line x1="1717.00" y1="1072.00" x2="1717.00" y2="1080.40" stroke="#000" stroke-width="1.6" />
<text transform="translate(1717.00,1112.80) scale(0.7800,1.0400)" font-family="'Liberation Sans', Arial, sans-serif" font-size="36.0" font-weight="normal" text-anchor="middle" fill="#000" >0.8</text>
<line x1="1841.30" y1="1072.00" x2="1841.30" y2="1080.40" stroke="#000" stroke-width="1.6" />
<text transform="translate(1841.30,1112.80) scale(0.7800,1.0400)" font-family="'Liberation Sans', Arial, sans-serif" font-size="36.0" font-weight="normal" text-anchor="middle" fill="#000" >0.6</text>
<line x1="1965.00" y1="1072.00" x2="1965.00" y2="1080.40" stroke="#000" stroke-width="1.6" />
<text transform="translate(1965.00,1112.80) scale(0.7800,1.0400)" font-family="'Liberation Sans', Arial, sans-serif" font-size="36.0" font-weight="normal" text-anchor="middle" fill="#000" >0.4</text>
<line x1="1547.20" y1="1072.00" x2="1554.00" y2="1072.00" stroke="#000" stroke-width="1.6" />
<text transform="translate(1540.70,1085.10) scale(0.7620,1.0400)" font-family="'Liberation Sans', Arial, sans-serif" font-size="36.9" font-weight="normal" text-anchor="end" fill="#000" >0</text>
<line x1="1547.20" y1="966.10" x2="1554.00" y2="966.10" stroke="#000" stroke-width="1.6" />
<text transform="translate(1540.70,979.20) scale(0.7620,1.0400)" font-family="'Liberation Sans', Arial, sans-serif" font-size="36.9" font-weight="normal" text-anchor="end" fill="#000" >1</text>
<line x1="1547.20" y1="860.20" x2="1554.00" y2="860.20" stroke="#000" stroke-width="1.6" />
<text transform="translate(1540.70,873.30) scale(0.7620,1.0400)" font-family="'Liberation Sans', Arial, sans-serif" font-size="36.9" font-weight="normal" text-anchor="end" fill="#000" >2</text>
<line x1="1547.20" y1="754.30" x2="1554.00" y2="754.30" stroke="#000" stroke-width="1.6" />
<text transform="translate(1540.70,767.40) scale(0.7620,1.0400)" font-family="'Liberation Sans', Arial, sans-serif" font-size="36.9" font-weight="normal" text-anchor="end" fill="#000" >3</text>
<text transform="translate(1779.30,1153.70) scale(0.8230,1.0300)" font-family="'Liberation Sans', Arial, sans-serif" font-size="33.8" font-weight="bold" text-anchor="middle" fill="#000" >HemiSphericity</text>
<text transform="translate(1774.50,675.20) scale(0.8430,1.0000)" font-family="'DejaVu Sans', 'Liberation Sans', sans-serif" font-size="29.2" font-weight="bold" text-anchor="middle" fill="#000" ><tspan>D</tspan><tspan font-size="20.44" dy="4.67">GA</tspan><tspan dy="-4.67"> = 10 µm</tspan><tspan font-size="20.44" dy="-10.51">2</tspan><tspan dy="10.51">/s, D</tspan><tspan font-size="20.44" dy="4.67">FA</tspan><tspan dy="-4.67"> = 1 µm</tspan><tspan font-size="20.44" dy="-10.51">2</tspan><tspan dy="10.51">/s</tspan></text>
<text transform="translate(1506.50,888.50) rotate(-90) scale(1.2700,1.0000)" font-family="'DejaVu Sans', 'Liberation Sans', sans-serif" font-size="28.0" font-weight="bold" text-anchor="middle" fill="#000" ><tspan>FA</tspan><tspan font-size="19.60" dy="6.16">4</tspan><tspan font-size="19.60" dy="-17.36" dx="-13.72">Global</tspan><tspan dy="11.20"> / FA</tspan><tspan font-size="19.60" dy="6.16">1</tspan></text>
</svg>
</body></html>
